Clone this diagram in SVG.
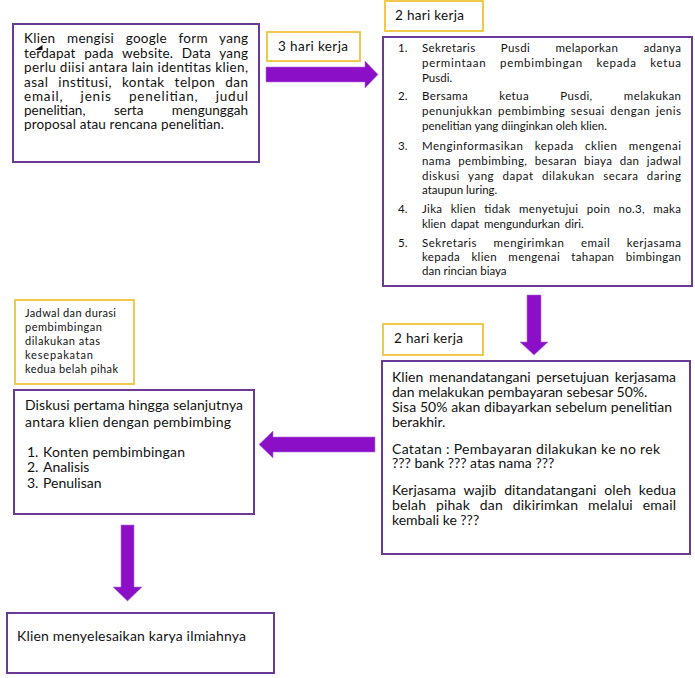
<svg xmlns="http://www.w3.org/2000/svg" width="695" height="678" viewBox="0 0 695 678">
<style>
.box{fill:#fff;stroke:#6B3A96;stroke-width:2}
.lbl{fill:#fff;stroke:#F2C94C;stroke-width:2}
.arr{fill:#8A0FC7;stroke:#B070E0;stroke-width:0.6}
text{font-family:Lato,"Open Sans","Liberation Sans",sans-serif;fill:#111}
.t1{font-size:13.5px}
.t3{font-size:13.5px}
.t14{font-size:14px}
.t2{font-size:11.5px}
.t10{font-size:11px}
</style>
<rect width="695" height="678" fill="#fff"/>
<g id="connectors">
<polygon class="arr" points="266,67 365,67 365,61 378,74.5 365,88 365,82 266,82"/>
<polygon class="arr" points="527,295 541,295 541,342 548,342 534,355 520,342 527,342"/>
<polygon class="arr" points="375,437 273,437 273,431 259,444.5 273,458 273,452 375,452"/>
<polygon class="arr" points="121,525 134,525 134,587 142,587 127.5,601 113,587 121,587"/>
</g>
<g id="node-form">
<rect class="box" x="13" y="24" width="246" height="138"/>
<g class="t1">
<text x="24" y="43" word-spacing="8" textLength="224" lengthAdjust="spacing">Klien mengisi google form yang</text>
<text x="24" y="58" word-spacing="5" textLength="224" lengthAdjust="spacing">terdapat pada website. Data yang</text>
<text x="24" y="72" textLength="224" lengthAdjust="spacing">perlu diisi antara lain identitas klien,</text>
<text x="24" y="87" word-spacing="6" textLength="224" lengthAdjust="spacing">asal institusi, kontak telpon dan</text>
<text x="24" y="101" word-spacing="13" textLength="224" lengthAdjust="spacing">email, jenis penelitian, judul</text>
<text x="24" y="115" word-spacing="25" textLength="224" lengthAdjust="spacing">penelitian, serta mengunggah</text>
<text x="24" y="129" textLength="200" lengthAdjust="spacing">proposal atau rencana penelitian.</text>
</g>
<polygon points="35,50 42.5,45 42.5,50" fill="#111"/>
</g>
<g id="label-3hari">
<rect class="lbl" x="267" y="32" width="93" height="29"/>
<text class="t3" x="278" y="51" textLength="70" lengthAdjust="spacing">3 hari kerja</text>
</g>
<g id="label-2hari-a">
<rect class="lbl" x="385" y="1" width="98" height="30"/>
<text class="t3" x="395" y="20" textLength="69" lengthAdjust="spacing">2 hari kerja</text>
</g>
<g id="node-pusdi">
<rect class="box" x="383" y="37" width="309" height="249"/>
<g class="t2">
<text x="398" y="52">1.</text>
<text x="422" y="52" word-spacing="22" textLength="259" lengthAdjust="spacing">Sekretaris Pusdi melaporkan adanya</text>
<text x="422" y="67" word-spacing="10" textLength="259" lengthAdjust="spacing">permintaan pembimbingan kepada ketua</text>
<text x="422" y="82">Pusdi.</text>
<text x="398" y="100">2.</text>
<text x="422" y="100" word-spacing="28" textLength="259" lengthAdjust="spacing">Bersama ketua Pusdi, melakukan</text>
<text x="422" y="115" word-spacing="2" textLength="259" lengthAdjust="spacing">penunjukkan pembimbing sesuai dengan jenis</text>
<text x="422" y="130" textLength="185" lengthAdjust="spacing">penelitian yang diinginkan oleh klien.</text>
<text x="398" y="150">3.</text>
<text x="422" y="150" word-spacing="8" textLength="259" lengthAdjust="spacing">Menginformasikan kepada cklien mengenai</text>
<text x="422" y="165" word-spacing="4" textLength="259" lengthAdjust="spacing">nama pembimbing, besaran biaya dan jadwal</text>
<text x="422" y="180" word-spacing="5" textLength="259" lengthAdjust="spacing">diskusi yang dapat dilakukan secara daring</text>
<text x="422" y="194">ataupun luring.</text>
<text x="398" y="213">4.</text>
<text x="422" y="213" word-spacing="5" textLength="259" lengthAdjust="spacing">Jika klien tidak menyetujui poin no.3, maka</text>
<text x="422" y="228" word-spacing="2">klien dapat mengundurkan diri.</text>
<text x="398" y="247">5.</text>
<text x="422" y="247" word-spacing="13" textLength="259" lengthAdjust="spacing">Sekretaris mengirimkan email kerjasama</text>
<text x="422" y="261" word-spacing="8" textLength="259" lengthAdjust="spacing">kepada klien mengenai tahapan bimbingan</text>
<text x="422" y="275">dan rincian biaya</text>
</g>
</g>
<g id="label-2hari-b">
<rect class="lbl" x="383" y="324" width="100" height="31"/>
<text class="t3" x="394" y="343" textLength="69" lengthAdjust="spacing">2 hari kerja</text>
</g>
<g id="node-kontrak">
<rect class="box" x="382" y="361" width="308" height="193"/>
<g class="t14">
<text x="392" y="382" word-spacing="2" textLength="284" lengthAdjust="spacing">Klien menandatangani persetujuan kerjasama</text>
<text x="392" y="397">dan melakukan pembayaran sebesar 50%.</text>
<text x="392" y="412" textLength="280" lengthAdjust="spacing">Sisa 50% akan dibayarkan sebelum penelitian</text>
<text x="392" y="427">berakhir.</text>
<text x="392" y="454" textLength="268" lengthAdjust="spacing">Catatan : Pembayaran dilakukan ke no rek</text>
<text x="392" y="468">??? bank ??? atas nama ???</text>
<text x="392" y="495" word-spacing="4" textLength="284" lengthAdjust="spacing">Kerjasama wajib ditandatangani oleh kedua</text>
<text x="392" y="510" word-spacing="6" textLength="284" lengthAdjust="spacing">belah pihak dan dikirimkan melalui email</text>
<text x="392" y="525">kembali ke ???</text>
</g>
</g>
<g id="note-jadwal">
<rect class="lbl" x="15" y="300" width="119" height="84"/>
<g class="t10">
<text x="25" y="317" textLength="91" lengthAdjust="spacing">Jadwal dan durasi</text>
<text x="25" y="331" textLength="77" lengthAdjust="spacing">pembimbingan</text>
<text x="25" y="345" textLength="75" lengthAdjust="spacing">dilakukan atas</text>
<text x="25" y="359" textLength="68" lengthAdjust="spacing">kesepakatan</text>
<text x="25" y="373" textLength="93" lengthAdjust="spacing">kedua belah pihak</text>
</g>
</g>
<g id="node-diskusi">
<rect class="box" x="14" y="390" width="240" height="124"/>
<g class="t14">
<text x="25" y="410" textLength="218" lengthAdjust="spacing">Diskusi pertama hingga selanjutnya</text>
<text x="25" y="427" textLength="206" lengthAdjust="spacing">antara klien dengan pembimbing</text>
<text x="27" y="457">1.</text><text x="43" y="457" textLength="142" lengthAdjust="spacing">Konten pembimbingan</text>
<text x="27" y="472">2.</text><text x="43" y="472">Analisis</text>
<text x="27" y="488">3.</text><text x="43" y="488">Penulisan</text>
</g>
</g>
<g id="node-selesai">
<rect class="box" x="7" y="613" width="267" height="60"/>
<text class="t14" x="17" y="641" textLength="229" lengthAdjust="spacing">Klien menyelesaikan karya ilmiahnya</text>
</g>
</svg>
